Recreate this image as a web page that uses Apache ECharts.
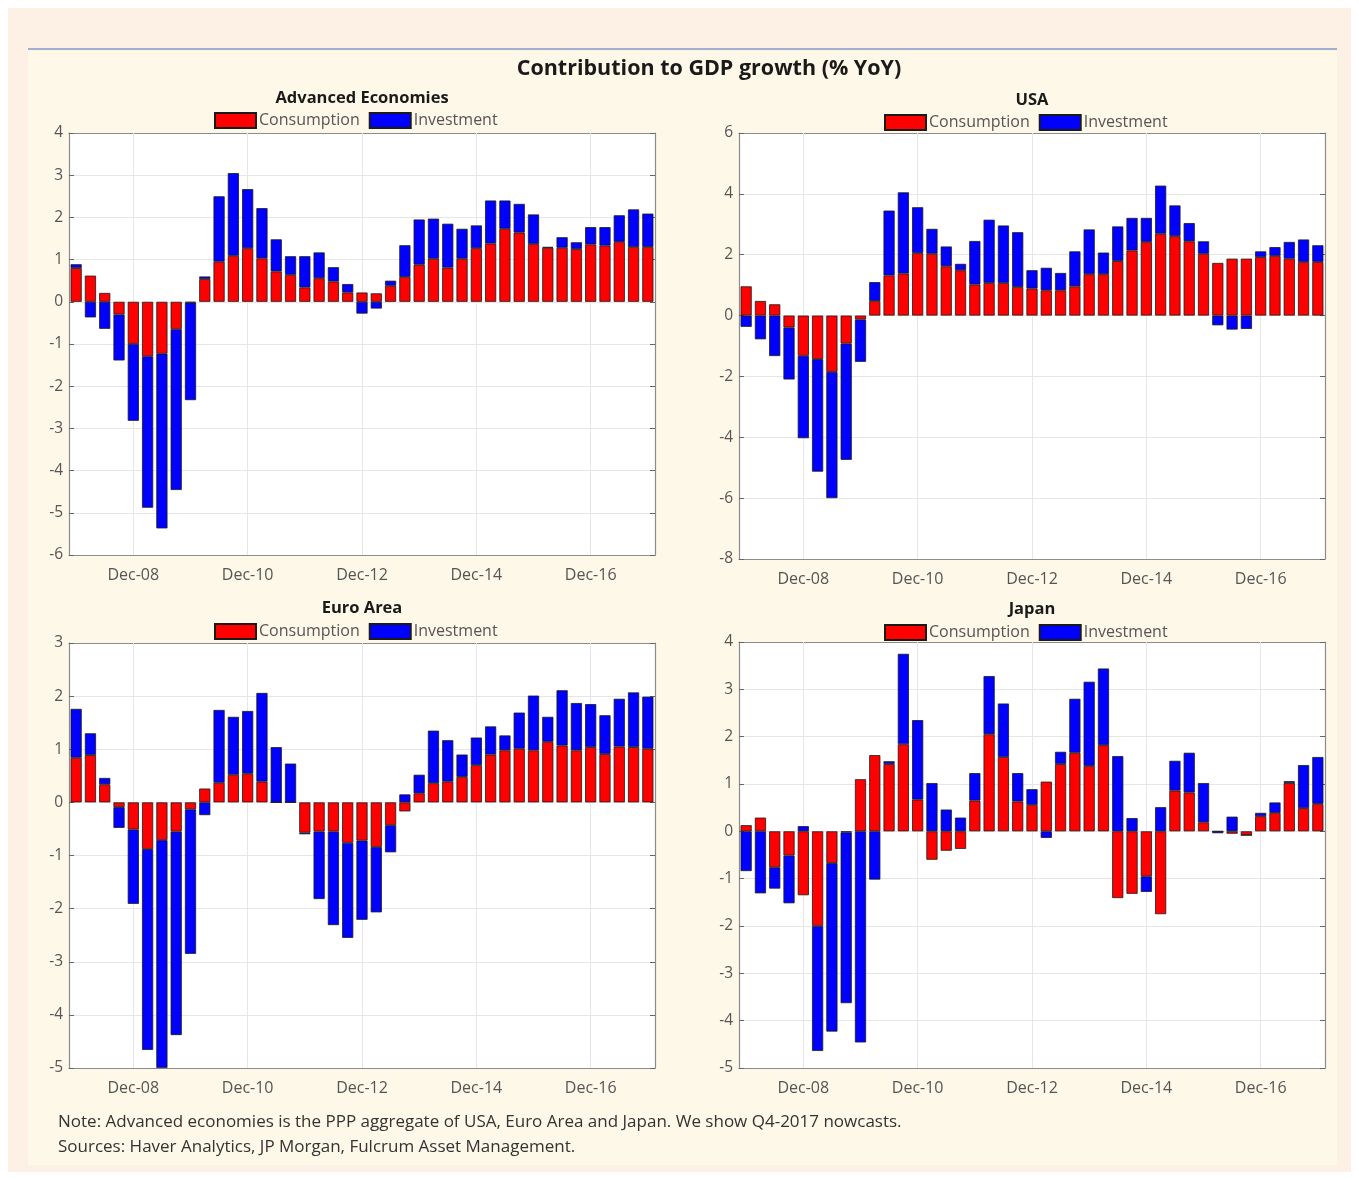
<!DOCTYPE html>
<html><head><meta charset="utf-8">
<script src="https://cdn.jsdelivr.net/npm/echarts@6/dist/echarts.min.js"></script>
<style>
html,body{margin:0;padding:0;background:#fff;}
#outer{position:absolute;left:8px;top:8px;width:1343px;height:1164px;background:#fdf1e5;}
#inner{position:absolute;left:28px;top:51px;width:1309px;height:1114px;background:#fef8e9;}
#rule{position:absolute;left:28px;top:48px;width:1309px;height:2px;background:#a3b1d0;}
#chart{position:absolute;left:0;top:0;width:1359px;height:1180px;}
</style></head><body>
<div id="outer"></div><div id="inner"></div><div id="rule"></div>
<div id="chart"></div>
<script>
const categories = ['Dec-07','Mar-08','Jun-08','Sep-08','Dec-08','Mar-09','Jun-09','Sep-09','Dec-09','Mar-10','Jun-10','Sep-10','Dec-10','Mar-11','Jun-11','Sep-11','Dec-11','Mar-12','Jun-12','Sep-12','Dec-12','Mar-13','Jun-13','Sep-13','Dec-13','Mar-14','Jun-14','Sep-14','Dec-14','Mar-15','Jun-15','Sep-15','Dec-15','Mar-16','Jun-16','Sep-16','Dec-16','Mar-17','Jun-17','Sep-17','Dec-17'];
const xTickLabels = ['Dec-08','Dec-10','Dec-12','Dec-14','Dec-16'];

const advCons = [0.80,0.62,0.21,-0.30,-1.00,-1.29,-1.23,-0.65,-0.02,0.54, 0.95,1.09,1.27,1.03,0.72,0.64,0.34,0.56,0.48,0.22, 0.22,0.20,0.38,0.59,0.88,1.02,0.81,1.02,1.27,1.38, 1.73,1.64,1.37,1.28,1.28,1.25,1.36,1.33,1.42,1.30,1.30];
const advInv  = [0.09,-0.37,-0.64,-1.09,-1.82,-3.59,-4.14,-3.81,-2.31,0.06, 1.55,1.96,1.40,1.19,0.76,0.44,0.74,0.61,0.34,0.20, -0.28,-0.16,0.12,0.75,1.07,0.95,1.04,0.71,0.54,1.02, 0.67,0.68,0.70,0.02,0.25,0.16,0.41,0.44,0.63,0.89,0.79];

const usaCons = [0.96,0.48,0.37,-0.39,-1.32,-1.43,-1.85,-0.92,-0.13,0.48, 1.32,1.38,2.05,2.03,1.62,1.49,1.02,1.07,1.07,0.94, 0.89,0.83,0.83,0.96,1.36,1.36,1.79,2.14,2.42,2.69, 2.61,2.44,2.03,1.73,1.87,1.87,1.92,1.96,1.87,1.76,1.76];
const usaInv  = [-0.37,-0.78,-1.33,-1.71,-2.71,-3.70,-4.15,-3.82,-1.39,0.62, 2.13,2.67,1.51,0.82,0.65,0.21,1.43,2.08,1.89,1.80, 0.60,0.74,0.57,1.15,1.47,0.71,1.14,1.07,0.79,1.58, 1.01,0.60,0.41,-0.32,-0.46,-0.44,0.19,0.29,0.55,0.74,0.55];

const euroCons = [0.84,0.89,0.34,-0.09,-0.51,-0.88,-0.71,-0.55,-0.13,0.26, 0.37,0.52,0.54,0.39,0.00,0.00,-0.57,-0.55,-0.55,-0.76, -0.72,-0.84,-0.43,-0.17,0.17,0.36,0.39,0.48,0.70,0.90, 0.98,1.01,0.98,1.14,1.07,0.98,1.04,0.91,1.05,1.04,1.01];
const euroInv  = [0.92,0.41,0.12,-0.39,-1.40,-3.78,-4.29,-3.83,-2.72,-0.24, 1.37,1.09,1.18,1.67,1.04,0.73,-0.03,-1.27,-1.76,-1.79, -1.49,-1.23,-0.51,0.15,0.35,0.99,0.78,0.42,0.52,0.53, 0.28,0.68,1.03,0.47,1.04,0.89,0.81,0.73,0.90,1.03,0.98];

const japanCons = [0.13,0.29,-0.76,-0.51,-1.35,-2.00,-0.67,-0.02,1.10,1.61, 1.42,1.84,0.67,-0.60,-0.41,-0.37,0.65,2.05,1.57,0.63, 0.56,1.05,1.42,1.66,1.38,1.82,-1.41,-1.32,-0.95,-1.75, 0.86,0.82,0.19,0.00,-0.05,-0.08,0.32,0.39,1.02,0.49,0.58];
const japanInv  = [-0.84,-1.31,-0.45,-1.01,0.11,-2.64,-3.56,-3.61,-4.46,-1.02, 0.06,1.91,1.68,1.02,0.46,0.29,0.58,1.23,1.13,0.60, 0.33,-0.14,0.26,1.14,1.78,1.62,1.59,0.28,-0.33,0.51, 0.63,0.84,0.83,-0.04,0.31,0.00,0.07,0.22,0.04,0.91,0.99];

const FONT = 'Open Sans';
const panels = [
  {title:'Advanced Economies', cons:advCons, inv:advInv, min:-6, max:4, interval:1,
   grid:{left:69, top:133, width:586, height:422}, legend:{left:214, top:112}, tx:362, ty:98},
  {title:'USA', cons:usaCons, inv:usaInv, min:-8, max:6, interval:2,
   grid:{left:739, top:133, width:586, height:426}, legend:{left:884, top:114}, tx:1032, ty:100},
  {title:'Euro Area', cons:euroCons, inv:euroInv, min:-5, max:3, interval:1,
   grid:{left:69, top:643, width:586, height:425}, legend:{left:214, top:623}, tx:362, ty:608},
  {title:'Japan', cons:japanCons, inv:japanInv, min:-5, max:4, interval:1,
   grid:{left:739, top:642, width:586, height:426}, legend:{left:884, top:624}, tx:1032, ty:609}
];

const isTick = (idx, val) => xTickLabels.indexOf(val) >= 0 || xTickLabels.indexOf(categories[idx]) >= 0;
const axisLineStyle = {show:true, onZero:false, lineStyle:{color:'#8c8c8c', width:1.2}};
const tickStyle = {show:true, inside:true, length:5, lineStyle:{color:'#666', width:1}};

const option = {
  animation:false,
  backgroundColor:'transparent',
  grid:[], xAxis:[], yAxis:[], series:[], legend:[],
  graphic:[]
};

option.graphic.push({type:'text', x:709, y:69, style:{text:'Contribution to GDP growth (% YoY)', fill:'#1a1a1a', font:'bold 21.5px "Open Sans"', align:'center', verticalAlign:'middle', textAlign:'center', textVerticalAlign:'middle'}});
option.graphic.push({type:'text', x:58, y:1122, style:{text:'Note: Advanced economies is the PPP aggregate of USA, Euro Area and Japan. We show Q4-2017 nowcasts.', fill:'#333', font:'17px "Open Sans"', align:'left', verticalAlign:'middle', textAlign:'left', textVerticalAlign:'middle'}});
option.graphic.push({type:'text', x:58, y:1147, style:{text:'Sources: Haver Analytics, JP Morgan, Fulcrum Asset Management.', fill:'#333', font:'17px "Open Sans"', align:'left', verticalAlign:'middle', textAlign:'left', textVerticalAlign:'middle'}});

panels.forEach((p, i) => {
  option.grid.push(Object.assign({show:true, backgroundColor:'#ffffff', borderWidth:0, containLabel:false}, p.grid));
  option.xAxis.push({type:'category', gridIndex:i, data:categories, position:'bottom',
    axisLine:axisLineStyle,
    axisTick:Object.assign({alignWithLabel:true, interval:isTick}, tickStyle),
    axisLabel:{interval:isTick, color:'#555', fontSize:16, fontFamily:FONT, margin:12},
    splitLine:{show:false}});
  option.xAxis.push({type:'category', gridIndex:i, data:categories, position:'top',
    axisLine:axisLineStyle,
    axisTick:Object.assign({alignWithLabel:true, interval:isTick}, tickStyle),
    axisLabel:{show:false}, splitLine:{show:false}});
  option.yAxis.push({type:'value', gridIndex:i, min:p.min, max:p.max, interval:p.interval, position:'left',
    axisLine:axisLineStyle, axisTick:tickStyle,
    axisLabel:{color:'#555', fontSize:15.5, fontFamily:FONT, margin:6},
    splitLine:{show:true, lineStyle:{color:'#e6e6e6', width:1}}});
  option.yAxis.push({type:'value', gridIndex:i, min:p.min, max:p.max, interval:p.interval, position:'right',
    axisLine:axisLineStyle, axisTick:tickStyle,
    axisLabel:{show:false}, splitLine:{show:false}});
  const stack = 'stack' + i;
  option.series.push({type:'bar', name:'Consumption', xAxisIndex:2*i, yAxisIndex:2*i, stack:stack,
    data:p.cons, barCategoryGap:'22%',
    itemStyle:{color:'#ff0000', borderColor:'#1a1a1a', borderWidth:0.8},
    markLine:{silent:true, z:1, symbol:'none', label:{show:false},
      lineStyle:{color:'#e6e6e6', type:'solid', width:1},
      data:xTickLabels.map(l => ({xAxis:l}))}});
  option.series.push({type:'bar', name:'Investment', xAxisIndex:2*i, yAxisIndex:2*i, stack:stack,
    data:p.inv, barCategoryGap:'22%',
    itemStyle:{color:'#0000ff', borderColor:'#1a1a1a', borderWidth:0.8}});
  option.legend.push({left:p.legend.left, top:p.legend.top, padding:0, orient:'horizontal',
    itemWidth:41, itemHeight:15, itemGap:9, icon:'rect', selectedMode:false,
    data:['Consumption','Investment'],
    textStyle:{color:'#555', fontSize:16, fontFamily:FONT, padding:[0,0,0,-2]}});
  option.graphic.push({type:'text', x:p.tx, y:p.ty, style:{text:p.title, fill:'#1a1a1a', font:'bold 16.5px "Open Sans"', align:'center', verticalAlign:'middle', textAlign:'center', textVerticalAlign:'middle'}});
});

const chart = echarts.init(document.getElementById('chart'), null, {renderer:'canvas'});
chart.setOption(option);
</script>
</body></html>
